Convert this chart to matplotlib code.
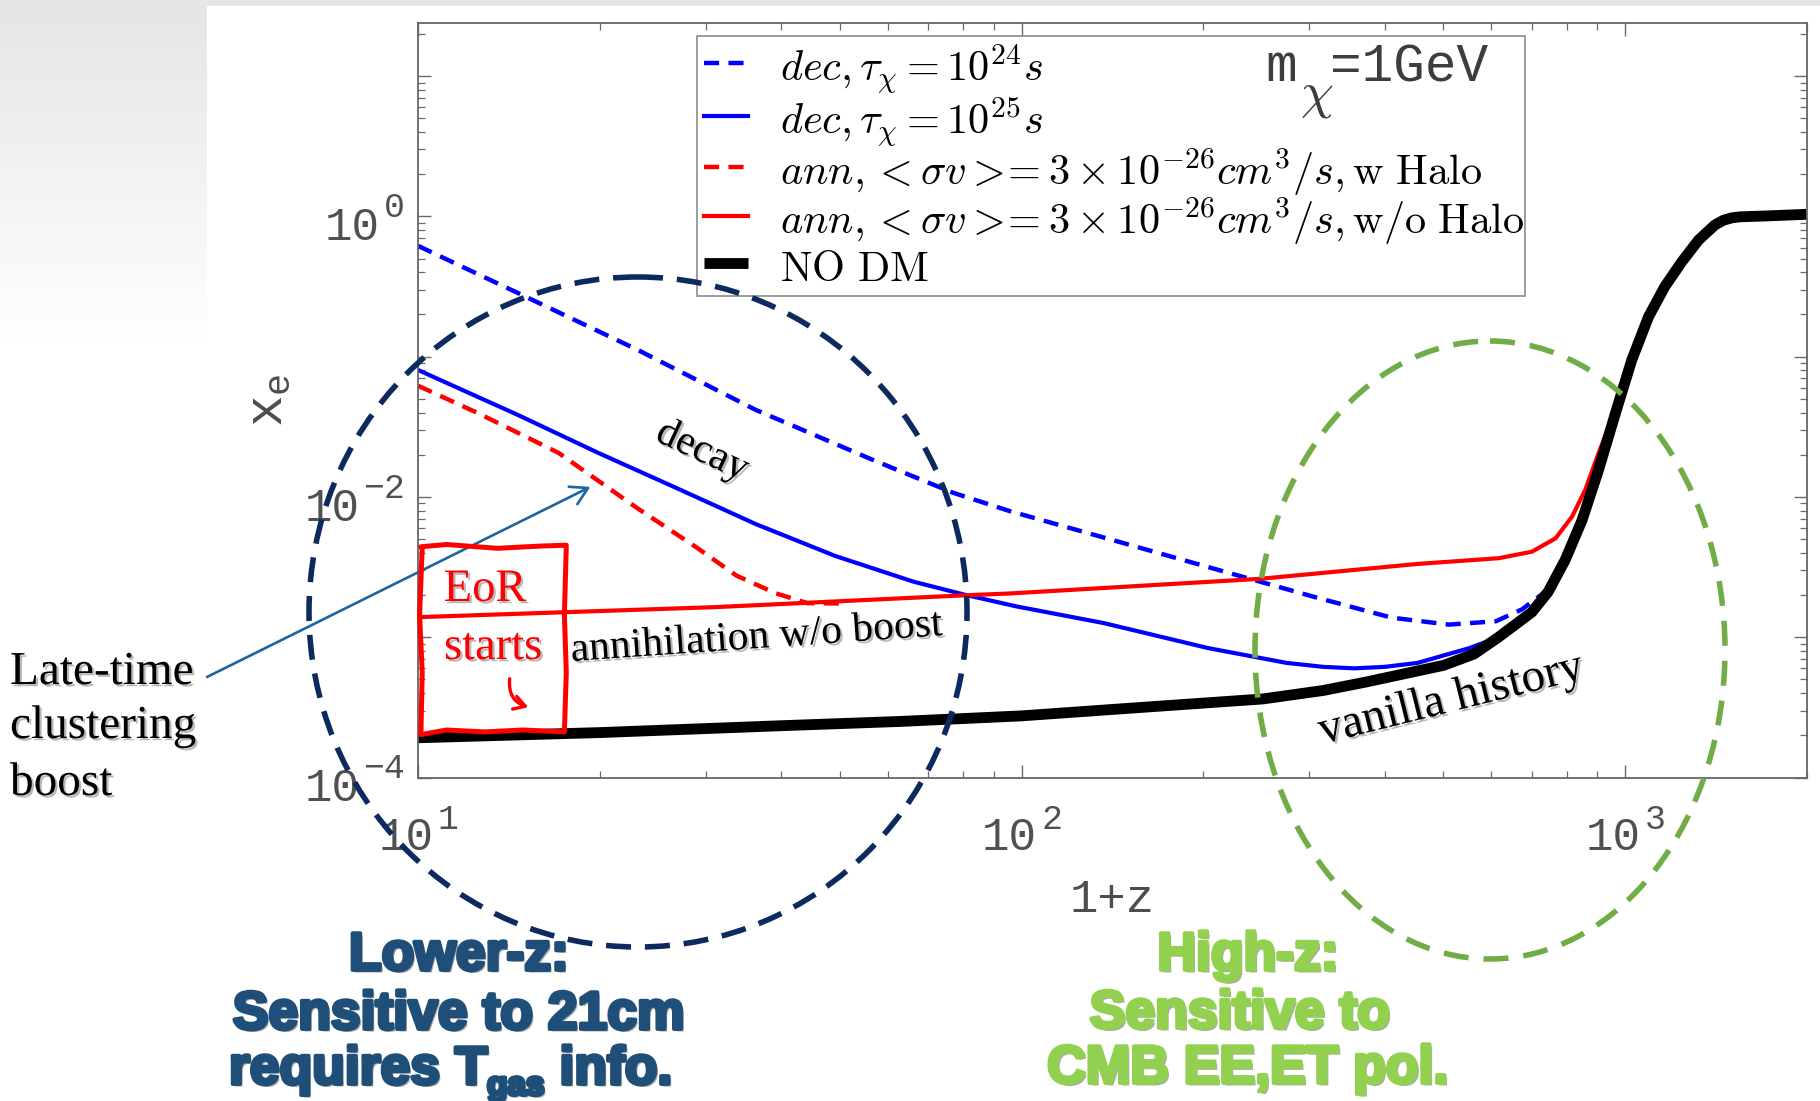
import numpy as np
import matplotlib
matplotlib.use("Agg")
import matplotlib.pyplot as plt
import matplotlib.patheffects as pe
from matplotlib import transforms
from matplotlib.patches import Ellipse, FancyArrowPatch, PathPatch, Rectangle
from matplotlib.path import Path
from matplotlib.ticker import LogLocator, NullFormatter

# ---- ionization histories: 1+z versus free-electron fraction x_e ----
z_nodm = [10, 20, 40, 63, 100, 158, 251, 316, 372, 501, 562, 617, 701, 746,
          796, 849, 904, 964, 1026, 1094, 1164, 1242, 1324, 1409, 1455, 1503,
          1549, 1622, 1706, 2000]
xe_nodm = [1.92e-4, 2.09e-4, 2.34e-4, 2.51e-4, 2.75e-4, 3.16e-4, 3.63e-4,
           4.17e-4, 4.79e-4, 6.31e-4, 7.59e-4, 1.0e-3, 1.51e-3, 2.11e-3,
           3.56e-3, 6.85e-3, 1.56e-2, 3.95e-2, 9.46e-2, 0.193, 0.316, 0.475,
           0.679, 0.869, 0.938, 0.977, 0.993, 1.0, 1.007, 1.035]

z_dec25 = [10, 14.7, 19.9, 26.9, 36.3, 49.1, 66.2, 80.5, 98, 137, 204, 275,
           316, 356, 400, 453, 552, 617, 701, 746, 796]
xe_dec25 = [8.04e-2, 3.81e-2, 2.06e-2, 1.15e-2, 6.40e-3, 3.80e-3, 2.49e-3,
            2.01e-3, 1.66e-3, 1.26e-3, 8.36e-4, 6.56e-4, 6.15e-4, 6.0e-4,
            6.15e-4, 6.56e-4, 8.36e-4, 1.0e-3, 1.51e-3, 2.11e-3, 3.56e-3]

z_dec24 = [10, 14.7, 23.1, 36.3, 57.0, 77.1, 95.5, 137, 204, 304, 410, 511,
           611, 675, 746, 796]
xe_dec24 = [0.617, 0.282, 0.112, 4.17e-2, 1.82e-2, 1.07e-2, 7.94e-3, 5.13e-3,
            3.16e-3, 1.95e-3, 1.38e-3, 1.23e-3, 1.30e-3, 1.58e-3, 2.19e-3,
            3.56e-3]

z_ann = [10, 31.2, 80.5, 95.5, 249, 453, 618, 701, 767, 817, 859, 904, 940,
         964, 1026]
xe_ann = [1.39e-3, 1.64e-3, 1.99e-3, 2.05e-3, 2.61e-3, 3.33e-3, 3.66e-3,
          4.07e-3, 5.07e-3, 7.24e-3, 1.12e-2, 2.05e-2, 3.17e-2, 3.98e-2, 9.46e-2]

z_ann_halo = [10, 12.6, 17.1, 23.1, 29.0, 33.7, 39.1, 44.2, 50.1]
xe_ann_halo = [6.21e-2, 3.94e-2, 2.06e-2, 8.30e-3, 4.34e-3, 2.75e-3, 2.06e-3,
               1.75e-3, 1.74e-3]

legend_labels = [
    r'$dec, \tau_{\chi} = 10^{24}s$',
    r'$dec, \tau_{\chi} = 10^{25}s$',
    r'$ann, < \sigma v >\!\!= 3\times10^{-26}cm^3/s, \mathrm{w\ Halo}$',
    r'$ann, < \sigma v >\!\!= 3\times10^{-26}cm^3/s, \mathrm{w/o\ Halo}$',
    r'$\mathrm{NO\ DM}$',
]

x_tick_values = [10, 100, 1000]
y_tick_values = [1e-4, 1e-2, 1]

W, H, DPI = 1820, 1101, 100
MONO = 'Liberation Mono'

plt.rcParams['mathtext.fontset'] = 'custom'
plt.rcParams['mathtext.rm'] = MONO
plt.rcParams['mathtext.it'] = MONO
plt.rcParams['mathtext.bf'] = MONO + ':bold'

fig = plt.figure(figsize=(W / DPI, H / DPI), dpi=DPI, facecolor='white')
# pixel coordinates measured from the top-left corner of the canvas
pix = transforms.Affine2D().scale(1.0 / W, -1.0 / H).translate(0, 1) + fig.transFigure

# ---- slide background: grey top strip and fading grey side panel ----
bg = fig.add_axes([0, 0, 1, 1], zorder=-10)
bg.set_xlim(0, W)
bg.set_ylim(H, 0)
bg.axis('off')
shade = np.linspace(0.89, 1.0, 256) ** 0.9
grad = np.tile(shade[:, None, None], (1, 2, 3))
bg.imshow(grad, extent=[0, 207, 345, 6], aspect='auto', interpolation='bilinear',
          vmin=0, vmax=1)
bg.add_patch(Rectangle((0, 0), W, 6, color='#e6e6e6', lw=0))

# ---- main log-log panel ----
ax = fig.add_axes([418 / W, 1 - 777.5 / H, (1806.7 - 418) / W, (777.5 - 22.8) / H])
ax.set_xscale('log')
ax.set_yscale('log')

l_dec24, = ax.plot(z_dec24, xe_dec24, color='blue', lw=3.2, dashes=(3.4, 2.1))
l_dec25, = ax.plot(z_dec25, xe_dec25, color='blue', lw=3.0)
l_halo, = ax.plot(z_ann_halo, xe_ann_halo, color='red', lw=3.2, dashes=(3.4, 2.1))
l_ann, = ax.plot(z_ann, xe_ann, color='red', lw=3.0)
l_nodm, = ax.plot(z_nodm, xe_nodm, color='black', lw=7.8, solid_capstyle='butt',
                  solid_joinstyle='round')

ax.set_xlim(10, 2000)
ax.set_ylim(1e-4, 24)

for axis in (ax.xaxis, ax.yaxis):
    axis.set_major_locator(LogLocator(base=10, numticks=10))
    axis.set_minor_locator(LogLocator(base=10, subs=np.arange(2, 10), numticks=30))
    axis.set_major_formatter(NullFormatter())
    axis.set_minor_formatter(NullFormatter())

ax.tick_params(which='both', direction='in', top=True, right=True, color='#6a6a6a')
ax.tick_params(which='major', length=9.5, width=1.0)
ax.tick_params(which='minor', length=5, width=0.9)
for s in ax.spines.values():
    s.set_color('#666666')
    s.set_linewidth(1.3)

# decade labels with a raised exponent
tick_kw = dict(family=MONO, color='#505050')
for v in x_tick_values:
    e = int(round(np.log10(v)))
    base = ax.text(v, 0, '10', transform=transforms.offset_copy(
        ax.get_xaxis_transform(), fig=fig, x=-12, y=-72.5, units='dots'),
        ha='center', va='baseline', fontsize=33, **tick_kw)
    ax.annotate(str(e).replace('-', '\u2212'), xy=(1, 0), xycoords=base, xytext=(4, 31),
                textcoords='offset pixels', ha='left', va='baseline', fontsize=25,
                **tick_kw)
for v in y_tick_values:
    e = int(round(np.log10(v)))
    sup = ax.text(0, v, str(e).replace('-', '\u2212'), transform=transforms.offset_copy(
        ax.get_yaxis_transform(), fig=fig, x=-13, y=-0.6, units='dots'),
        ha='right', va='baseline', fontsize=25, **tick_kw)
    ax.annotate('10', xy=(0, 0), xycoords=sup, xytext=(-4, -16),
                textcoords='offset pixels', ha='right', va='baseline', fontsize=33,
                **tick_kw)

ax.set_xlabel('1+z', family=MONO, fontsize=34, color='#4d4d4d')
ax.xaxis.set_label_coords(0.5, -0.133)
ax.set_ylabel(r'$x_e$', fontsize=38, color='#4d4d4d')
ax.yaxis.set_label_coords(-0.09, 0.5)

leg = ax.legend(handles=[l_dec24, l_dec25, l_halo, l_ann, l_nodm], labels=legend_labels,
                loc='upper left', bbox_to_anchor=(0.2009, 0.9825, 0.5962, 0),
                mode='expand', borderaxespad=0, fontsize=30.5, handlelength=1.04,
                handleheight=1.2, handletextpad=0.75, borderpad=0.16, labelspacing=-0.06,
                fancybox=False, framealpha=1, edgecolor='#8c8c8c')
leg.get_frame().set_linewidth(1.2)
for t in leg.get_texts():
    t.set_math_fontfamily('cm')

# particle mass tag inside the legend box
fig.text(1265, 81, 'm', transform=pix, family=MONO, fontsize=38,
         color='#3d3d3d', va='baseline', ha='left')
t_chi = fig.text(1300, 108, r'$\chi$', transform=pix, fontsize=38, color='#3d3d3d',
                 va='baseline', ha='left')
t_chi.set_math_fontfamily('cm')
fig.text(1330, 81, '=1GeV', transform=pix, family=MONO, fontsize=38,
         color='#3d3d3d', va='baseline', ha='left')

# ---- annotations ----
shadow = [pe.withSimplePatchShadow(offset=(1.6, -1.6), shadow_rgbFace='#7f7f7f', alpha=0.55)]
serif = 'Liberation Serif'

ax.text(29.6, 0.0213, 'decay', rotation=-25, rotation_mode='anchor', ha='center',
        va='center', family=serif, fontsize=30, path_effects=shadow)
ax.text(36.4, 9.9e-4, 'annihilation w/o boost', rotation=4, rotation_mode='anchor',
        ha='center', va='center', family=serif, fontsize=30, path_effects=shadow)
ax.text(516, 3.57e-4, 'vanilla history', rotation=14, rotation_mode='anchor',
        ha='center', va='center', family=serif, fontsize=34, path_effects=shadow)

for txt, yb in [('Late-time', 684), ('clustering', 738), ('boost', 795)]:
    fig.text(10, yb, txt, transform=pix, family=serif, fontsize=34, va='baseline',
             ha='left', path_effects=shadow)

ax.annotate('', xy=(19.3, 0.0118), xycoords='data', xytext=(207, 677), textcoords=pix,
            annotation_clip=False,
            arrowprops=dict(arrowstyle='->,head_length=0.6,head_width=0.35',
                            mutation_scale=20, color='#1b65a3', lw=1.9,
                            shrinkA=0, shrinkB=0))

# hand-drawn frame marking the start of reionization
box_pts = [(420.9, 546.8), (446.4, 544.5), (497.4, 548.3), (542.1, 546.0), (566.3, 545.2),
           (564.4, 615.0), (566.3, 672.5), (564.4, 731.9),
           (523.0, 730.0), (484.7, 731.9), (446.4, 730.0), (420.9, 734.6),
           (422.2, 672.5), (419.6, 615.0), (422.2, 547.9)]
box = PathPatch(Path(box_pts), transform=pix, fill=False, ec='red', lw=3.6,
                joinstyle='round', capstyle='round')
fig.add_artist(box)
fig.text(485, 601, 'EoR', transform=pix, family=serif, fontsize=33.5, color='red',
         ha='center', va='baseline', path_effects=shadow)
fig.text(493, 659, 'starts', transform=pix, family=serif, fontsize=33.5, color='red',
         ha='center', va='baseline', path_effects=shadow)
fig.add_artist(FancyArrowPatch(posA=(510, 676), posB=(531, 708), transform=pix,
                               connectionstyle='arc3,rad=0.45',
                               arrowstyle='->,head_length=0.5,head_width=0.3',
                               mutation_scale=16, color='red', lw=2.4))

# dashed rings marking the two sensitivity regimes
fig.add_artist(Ellipse((638, 612), 658, 670, transform=pix, fill=False, ec='#0d2a5e',
                       lw=4.0, linestyle=(0, (4.5, 2.5))))
fig.add_artist(Ellipse((1490, 650), 470, 618, transform=pix, fill=False, ec='#70ad47',
                       lw=4.0, linestyle=(0, (4.5, 2.7))))

blue_c, green_c = '#1f4e79', '#92d050'
bold_kw = dict(family='Liberation Sans', weight='bold', fontsize=38.5)
blue_fx = [pe.withSimplePatchShadow(offset=(1.8, -1.8), shadow_rgbFace='#555555', alpha=0.5),
           pe.withStroke(linewidth=2.8, foreground=blue_c)]
green_fx = [pe.withSimplePatchShadow(offset=(1.8, -1.8), shadow_rgbFace='#555555', alpha=0.5),
            pe.withStroke(linewidth=2.8, foreground=green_c)]

fig.text(459, 970, 'Lower-z:', transform=pix, color=blue_c, ha='center', va='baseline',
         path_effects=blue_fx, **bold_kw)
fig.text(459, 1029, 'Sensitive to 21cm', transform=pix, color=blue_c, ha='center',
         va='baseline', path_effects=blue_fx, **bold_kw)
t_req = fig.text(229, 1084, 'requires T', transform=pix, color=blue_c, ha='left',
                 va='baseline', path_effects=blue_fx, **bold_kw)
t_sub = ax.annotate('gas', xy=(1.0, 0.0), xycoords=t_req, xytext=(-1, 0),
                    textcoords='offset pixels', color=blue_c, family='Liberation Sans',
                    weight='bold', fontsize=24, ha='left', va='baseline',
                    path_effects=blue_fx, annotation_clip=False)
ax.annotate(' info.', xy=(1.0, 0.0), xycoords=(t_sub, t_req), xytext=(0, 0),
            textcoords='offset pixels', color=blue_c, va='bottom', ha='left',
            path_effects=blue_fx, annotation_clip=False, **bold_kw)

fig.text(1248, 970, 'High-z:', transform=pix, color=green_c, ha='center', va='baseline',
         path_effects=green_fx, **bold_kw)
fig.text(1240, 1028, 'Sensitive to', transform=pix, color=green_c, ha='center',
         va='baseline', path_effects=green_fx, **bold_kw)
fig.text(1248, 1083, 'CMB EE,ET pol.', transform=pix, color=green_c, ha='center',
         va='baseline', path_effects=green_fx, **bold_kw)

fig.savefig('out.png', dpi=DPI, facecolor='white')
